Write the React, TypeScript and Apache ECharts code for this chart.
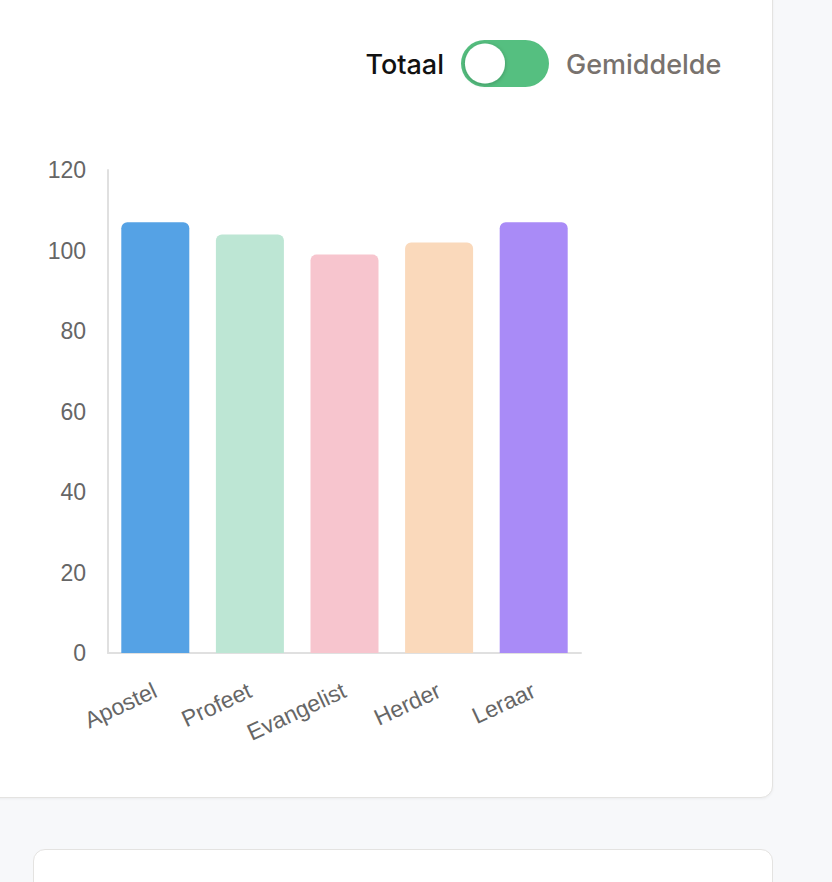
import React, { useEffect, useRef } from "react";
import * as echarts from "echarts";

const categories = ["Apostel", "Profeet", "Evangelist", "Herder", "Leraar"];
const values = [107, 104, 99, 102, 107];
const barColors = ["#55a2e5", "#bde6d4", "#f7c5ce", "#fad9bb", "#a98bf7"];
const toggleLeft = "Totaal";
const toggleRight = "Gemiddelde";

export default function App() {
  const ref = useRef<HTMLDivElement>(null);
  useEffect(() => {
    if (!ref.current) return;
    const chart = echarts.init(ref.current, undefined, { renderer: "svg" });
    chart.setOption({
      animation: false,
      backgroundColor: "transparent",
      grid: { left: 108, top: 170, width: 473, height: 483, containLabel: false },
      xAxis: {
        type: "category",
        data: categories,
        axisLine: { lineStyle: { color: "#e0e0e0", width: 2 } },
        axisTick: { show: false },
        axisLabel: {
          rotate: 25,
          margin: 36,
          fontSize: 23,
          color: "#666",
          fontFamily: "Liberation Sans, Arial, sans-serif",
          interval: 0,
        },
      },
      yAxis: {
        type: "value",
        min: 0,
        max: 120,
        interval: 20,
        axisLine: { show: true, lineStyle: { color: "#e0e0e0", width: 2 } },
        axisTick: { show: false },
        splitLine: { show: false },
        axisLabel: {
          margin: 22,
          fontSize: 23,
          color: "#666",
          fontFamily: "Liberation Sans, Arial, sans-serif",
        },
      },
      series: [
        {
          type: "bar",
          barWidth: 68,
          data: values.map((v, i) => ({
            value: v,
            itemStyle: { color: barColors[i], borderRadius: [6, 6, 0, 0] },
          })),
        },
      ],
      graphic: [
        {
          type: "rect",
          shape: { x: 461, y: 40, width: 88, height: 47, r: 23.5 },
          style: { fill: "#55bf80" },
        },
        {
          type: "circle",
          shape: { cx: 485, cy: 63.5, r: 20 },
          style: { fill: "#ffffff", shadowBlur: 4, shadowColor: "rgba(0,0,0,0.25)", shadowOffsetY: 1 },
        },
        {
          type: "text",
          x: 444,
          y: 64,
          style: {
            text: toggleLeft,
            fill: "#111111",
            font: "500 27px Inter, 'Noto Sans', sans-serif",
            align: "right",
            verticalAlign: "middle",
          },
        },
        {
          type: "text",
          x: 566,
          y: 64,
          style: {
            text: toggleRight,
            fill: "#78726e",
            font: "500 27px Inter, 'Noto Sans', sans-serif",
            align: "left",
            verticalAlign: "middle",
          },
        },
      ],
    });
    return () => chart.dispose();
  }, []);

  return (
    <div
      style={{
        position: "fixed",
        left: 0,
        top: 0,
        width: 832,
        height: 882,
        background: "#f7f8fa",
        overflow: "hidden",
      }}
    >
      <div
        style={{
          position: "absolute",
          left: -20,
          top: -20,
          width: 791,
          height: 816,
          background: "#ffffff",
          border: "1px solid #e4e3e1",
          borderRadius: 12,
          boxShadow: "0 1px 3px rgba(0,0,0,0.05)",
        }}
      />
      <div
        style={{
          position: "absolute",
          left: 33,
          top: 849,
          width: 738,
          height: 100,
          background: "#ffffff",
          border: "1px solid #e4e3e1",
          borderRadius: 12,
        }}
      />
      <div ref={ref} style={{ position: "absolute", left: 0, top: 0, width: 832, height: 882 }} />
    </div>
  );
}
